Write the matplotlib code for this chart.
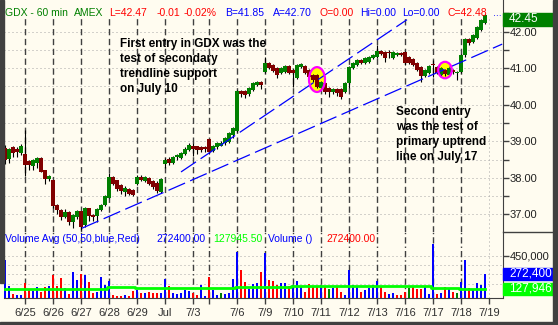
import matplotlib

matplotlib.use("Agg")
import matplotlib.pyplot as plt
import numpy as np
from matplotlib.lines import Line2D
from matplotlib.patches import Ellipse, Rectangle

plt.rcParams["font.family"] = ["Liberation Sans", "DejaVu Sans"]
plt.rcParams["lines.scale_dashes"] = False

# hourly bars: 5 bars left of 6/22, then one group per trading day
lead_bars = 5
day_labels = ["6/25", "6/26", "6/27", "6/28", "6/29", "Jul", "7/3", "", "7/6", "7/9",
              "7/10", "7/11", "7/12", "7/13", "7/16", "7/17", "7/18", "7/19"]
day_bars = [7, 7, 7, 7, 7, 7, 4, 7, 7, 7, 7, 7, 7, 7, 7, 7, 7, 0]

opens = [
    38.82, 38.52, 38.83, 38.80, 38.68,
    38.64, 38.45, 38.33, 38.40, 38.55, 38.20, 37.98,
    37.93, 37.25, 37.12, 36.93, 37.05, 36.80, 36.92,
    37.08, 36.70, 37.16, 36.99, 36.95, 37.12, 37.25,
    37.46, 38.03, 37.93, 37.80, 37.62, 37.70, 37.67,
    37.82, 38.03, 37.92, 38.00, 37.92, 37.87, 37.62,
    38.37, 38.52, 38.41, 38.56, 38.55, 38.66, 38.77,
    38.88, 38.86, 38.84, 38.83,
    39.05, 38.74, 38.83, 38.88, 38.94, 38.99, 39.18,
    39.29, 40.38, 40.38, 40.30, 40.41, 40.55, 40.63,
    40.90, 41.14, 41.09, 41.01, 40.87, 40.90, 41.06,
    40.95, 40.73, 41.03, 41.06, 40.95, 40.82, 40.82,
    40.46, 40.60, 40.46, 40.35, 40.43, 40.43, 40.35,
    40.60, 41.00, 41.09, 41.23, 41.15, 41.17, 41.28,
    41.31, 41.47, 41.45, 41.45, 41.28, 41.36, 41.42,
    41.45, 41.31, 41.25, 41.14, 41.03, 40.79, 40.87,
    41.12, 41.03, 40.82, 40.96, 40.82, 40.96, 40.87,
    40.90, 41.36, 41.80, 41.72, 41.83, 42.05, 42.24,
]
highs = [
    38.89, 38.82, 38.86, 38.85, 38.92,
    39.32, 38.50, 38.52, 38.56, 38.58, 38.22, 38.08,
    37.95, 37.28, 37.15, 37.14, 37.08, 37.00, 37.12,
    37.10, 37.21, 37.18, 37.02, 37.16, 37.29, 37.52,
    38.14, 38.06, 37.95, 37.84, 37.77, 37.73, 37.70,
    38.08, 38.08, 38.06, 38.03, 37.95, 37.90, 38.00,
    38.55, 38.56, 38.61, 38.65, 38.72, 38.83, 38.95,
    38.96, 38.88, 38.87, 38.86,
    39.07, 38.91, 38.97, 39.02, 39.13, 39.26, 39.40,
    40.41, 40.41, 40.41, 40.49, 40.63, 40.66, 40.66,
    41.31, 41.17, 41.12, 41.04, 41.04, 41.09, 41.09,
    40.98, 41.12, 41.14, 41.09, 40.98, 40.85, 40.85,
    40.66, 40.63, 40.49, 40.46, 40.46, 40.46, 40.63,
    41.07, 41.17, 41.26, 41.26, 41.31, 41.34, 41.39,
    41.64, 41.50, 41.48, 41.50, 41.48, 41.45, 41.45,
    41.48, 41.34, 41.28, 41.17, 41.06, 40.99, 41.09,
    41.23, 41.06, 41.04, 40.99, 41.04, 40.99, 40.93,
    41.39, 41.83, 41.83, 41.94, 42.16, 42.35, 42.48,
]
lows = [
    38.39, 38.41, 38.58, 38.58, 38.62,
    38.06, 38.20, 38.22, 38.28, 38.15, 37.82, 37.92,
    37.16, 37.00, 36.84, 36.90, 36.70, 36.63, 36.88,
    36.58, 36.66, 36.82, 36.81, 36.78, 37.08, 37.22,
    37.44, 37.80, 37.64, 37.55, 37.51, 37.52, 37.49,
    37.79, 37.90, 37.88, 37.80, 37.70, 37.59, 37.58,
    38.28, 38.36, 38.38, 38.50, 38.52, 38.63, 38.74,
    38.61, 38.64, 38.70, 38.72,
    38.66, 38.71, 38.80, 38.86, 38.91, 38.96, 39.08,
    39.26, 40.22, 40.19, 40.25, 40.38, 40.52, 40.44,
    40.87, 40.98, 40.90, 40.73, 40.84, 40.87, 40.84,
    40.48, 40.70, 41.00, 40.84, 40.72, 40.62, 40.45,
    40.40, 40.30, 40.22, 40.30, 40.25, 40.16, 40.32,
    40.46, 40.98, 41.06, 41.12, 41.12, 41.14, 41.25,
    41.28, 41.36, 41.17, 41.28, 41.25, 41.34, 41.33,
    41.09, 41.11, 41.06, 40.92, 40.62, 40.76, 40.84,
    40.76, 40.84, 40.79, 40.80, 40.79, 40.84, 40.68,
    40.87, 41.31, 41.64, 41.69, 41.80, 42.03, 42.21,
]
closes = [
    38.50, 38.80, 38.68, 38.70, 38.88,
    38.36, 38.34, 38.50, 38.53, 38.17, 37.98, 38.06,
    37.22, 37.12, 36.93, 37.06, 36.78, 36.97, 37.08,
    36.64, 37.18, 36.95, 36.94, 37.14, 37.26, 37.49,
    38.01, 37.84, 37.69, 37.63, 37.73, 37.56, 37.54,
    38.03, 37.95, 38.03, 37.84, 37.76, 37.65, 37.98,
    38.50, 38.41, 38.58, 38.62, 38.69, 38.80, 38.91,
    38.80, 38.75, 38.77, 38.79,
    38.72, 38.88, 38.94, 38.94, 39.10, 39.23, 39.37,
    40.38, 40.30, 40.27, 40.46, 40.60, 40.63, 40.55,
    41.14, 41.01, 40.93, 40.82, 41.01, 41.06, 40.87,
    40.88, 41.09, 41.11, 40.87, 40.76, 40.68, 40.49,
    40.63, 40.35, 40.35, 40.43, 40.32, 40.22, 40.60,
    41.04, 41.14, 41.23, 41.15, 41.28, 41.31, 41.36,
    41.47, 41.39, 41.28, 41.42, 41.45, 41.42, 41.36,
    41.14, 41.14, 41.09, 40.96, 40.79, 40.96, 41.06,
    41.08, 40.87, 41.01, 40.84, 41.01, 40.90, 40.90,
    41.36, 41.80, 41.69, 41.91, 42.13, 42.32, 42.45,
]
volumes = [
    404000, 160000, 79000, 70000, 70000,
    190000, 125000, 108000, 145000, 102000, 150000, 157000,
    265000, 160000, 232000, 135000, 79000, 291000, 216000,
    274000, 258000, 199000, 92000, 102000, 242000, 167000,
    206000, 70000, 60000, 60000, 70000, 60000, 112000,
    118000, 85000, 90000, 102000, 90000, 85000, 90000,
    222000, 157000, 85000, 79000, 90000, 118000, 112000,
    90000, 70000, 167000, 60000,
    248000, 122000, 70000, 90000, 79000, 85000, 222000,
    482000, 313000, 192000, 125000, 177000, 184000, 287000,
    476000, 216000, 209000, 167000, 190000, 190000, 157000,
    167000, 209000, 144000, 102000, 177000, 144000, 157000,
    167000, 157000, 125000, 134000, 144000, 102000, 69000,
    307000, 167000, 144000, 102000, 118000, 134000, 167000,
    206000, 151000, 102000, 79000, 92000, 69000, 69000,
    102000, 134000, 157000, 125000, 125000, 144000, 79000,
    557000, 79000, 92000, 144000, 125000, 102000, 92000,
    200000, 404000, 134000, 125000, 190000, 167000, 272400,
]
# 50-bar volume average, one level per day (lead + 17 days)
avg_volume = [125000, 125000, 127000, 130000, 150000, 140000, 140000, 140000, 135000,
              145000, 150000, 152000, 152000, 152000, 152000, 152000, 140000, 127946]

# trendlines: (start bar, start price, end bar, end price)
primary_trend = (19.25, 36.62, 124.3, 41.66)
secondary_trend = (44.0, 38.16, 100.5, 42.33)
# entry points circled on the chart: (bar, price)
entries = [(78.0, 40.69), (110.0, 40.95)]

title_parts = [("GDX - 60 min", "#008000", 5), ("AMEX", "#008000", 74),
               ("L=42.47", "#ff0000", 109), ("-0.01", "#ff0000", 157),
               ("-0.02%", "#ff0000", 184), ("B=41.85", "#0000ff", 225),
               ("A=42.70", "#0000ff", 273), ("O=0.00", "#ff0000", 319),
               ("Hi=0.00", "#0000ff", 360), ("Lo=0.00", "#0000ff", 402),
               ("C=42.48", "#ff0000", 447), ("...", "#0000ff", 493)]
volume_parts = [("Volume Avg (50,50,blue,Red)", "#0000ff", 5), ("272400.00", "#0000ff", 156),
                ("127945.50", "#00ff00", 213), ("Volume ()", "#0000ff", 268),
                ("272400.00", "#ff0000", 326)]
note_1 = "First entry in GDX was the\ntest of secondary\ntrendline support\non July 10"
note_2 = "Second entry\nwas the test of\nprimary uptrend\nline on July 17"

BG = "#fffcf0"
FRAME = "#404040"
DOT = (0, (0.72, 2.16))  # 1 px on, 3 px off
W, H = 558, 325

fig = plt.figure(figsize=(W / 100, H / 100), dpi=100, facecolor=BG)
ax_p = fig.add_axes([3.5 / W, (H - 232) / H, 499 / W, 232 / H], facecolor=BG)
ax_v = fig.add_axes([3.5 / W, (H - 298.3) / H, 499 / W, 66.3 / H], facecolor=BG)

n = len(closes)
x = np.arange(n)
starts = lead_bars + np.concatenate([[0], np.cumsum(day_bars[:-1])])

for ax in (ax_p, ax_v):
    ax.set_xlim(-0.375, 124.375)
    for side in ("left", "top", "bottom"):
        ax.spines[side].set_visible(False)
    ax.spines["right"].set_color(FRAME)
ax_v.spines["bottom"].set_visible(True)
ax_v.spines["bottom"].set_color(FRAME)

ax_p.set_ylim(36.516, 42.868)
ax_v.set_ylim(38500, 676000)
p_top = 42.42  # day lines stop under the title row

# grid
ax_p.hlines(np.arange(37.0, 42.01, 0.5), -0.375, 124.375, color="#a8a8a8", lw=0.72,
            linestyles=[DOT], zorder=0.5)
ax_v.hlines([180000, 270000, 360000, 450000], -0.375, 124.375, color="#a8a8a8", lw=0.72,
            linestyles=[DOT], zorder=0.5)
day_starts = starts[:-1]
ax_p.vlines(day_starts, 36.516, p_top, color=FRAME, lw=1.0,
            linestyles=[(0, (4.5, 2.6))], zorder=0.6)
ax_v.vlines(day_starts, 38500, 676000, color=FRAME, lw=1.0,
            linestyles=[(0, (4.5, 2.2, 1, 2.2))], zorder=0.6)
ax_p.vlines([starts[-1]], 36.516, p_top, color="#a8a8a8", lw=0.72,
            linestyles=[DOT], zorder=0.6)
ax_v.vlines([starts[-1]], 38500, 676000, color="#a8a8a8", lw=0.72,
            linestyles=[DOT], zorder=0.6)

# candles
o = np.array(opens)
c = np.array(closes)
up = c >= o
ax_p.vlines(x, lows, highs, color="black", lw=0.8, zorder=3)
body_lo = np.minimum(o, c)
body_h = np.maximum(np.abs(c - o), 0.03)
ax_p.bar(x, body_h, bottom=body_lo, width=0.78,
         color=np.where(up, "#008000", "#800000"), zorder=4)

# trendlines
for t in (primary_trend, secondary_trend):
    ax_p.plot([t[0], t[2]], [t[1], t[3]], color="#0000ff", lw=0.9,
              ls=(0, (13, 4)), zorder=5, solid_capstyle="butt")

# entry marks
for (bx, py), (w, h) in zip(entries, [(4.0, 0.68), (3.4, 0.45)]):
    ax_p.add_patch(Ellipse((bx, py), w, h, facecolor="#ffff00", edgecolor="none", zorder=2))
    ax_p.add_patch(Ellipse((bx, py), w, h, facecolor="none", edgecolor="#ff00ff", lw=1.6, zorder=6))

# volume, coloured by close-to-close change
diff = np.diff(np.concatenate([[c[0] - 0.01], c]))
vcol = np.where(diff > 0, "#0000ff", np.where(diff < 0, "#ff0000", "#008000"))
ax_v.bar(x, volumes, width=0.5, color=vcol, zorder=3)
per_bar_avg = np.repeat(avg_volume, [lead_bars] + day_bars[:-1])
ax_v.plot(x, per_bar_avg, color="#00ff00", lw=2.0, zorder=4, drawstyle="steps-mid")

# axes ticks
ax_p.yaxis.tick_right()
ax_p.set_yticks([37, 38, 39, 40, 41, 42])
ax_p.set_yticklabels([f"{v:.2f}" for v in [37, 38, 39, 40, 41, 42]])
ax_p.set_yticks(np.arange(37.5, 42.6, 1.0), minor=True)
ax_p.tick_params(axis="y", which="both", direction="out", length=4, width=1,
                 color=FRAME, labelsize=8, labelcolor="#202020", pad=1)
ax_p.set_xticks([])

ax_v.yaxis.tick_right()
ax_v.set_yticks([450000])
ax_v.set_yticklabels(["450,000"])
ax_v.tick_params(axis="y", direction="out", length=4, width=1, color=FRAME,
                 labelsize=8, labelcolor="#202020", pad=1)
ax_v.set_xticks(starts)
ax_v.set_xticklabels(day_labels)
ax_v.tick_params(axis="x", direction="out", length=4, width=1, color=FRAME,
                 labelsize=8, labelcolor="#303030", pad=3)

# text
for txt, col, px in title_parts:
    fig.text(px / W, 1 - 12.5 / H, txt, color=col, fontsize=7.5, va="center", ha="left")
for txt, col, px in volume_parts:
    fig.text(px / W, 1 - 239.5 / H, txt, color=col, fontsize=7.5, va="center", ha="left")
fig.text(120.5 / W, 1 - 38.5 / H, note_1, fontsize=8.5, fontweight="bold",
         va="top", ha="left", linespacing=1.3, color="black")
fig.text(396.5 / W, 1 - 106.5 / H, note_2, fontsize=8.5, fontweight="bold",
         va="top", ha="left", linespacing=1.3, color="black")


def right_box(ax, value, text, color, height_px, shift_px=0.0):
    y_disp = ax.transData.transform((0, value))[1] - shift_px
    y0 = (y_disp - height_px / 2) / H
    fig.patches.append(Rectangle((503 / W, y0), 50 / W, height_px / H,
                                 transform=fig.transFigure, color=color, zorder=5))
    fig.text(509 / W, y_disp / H, text, color="white", fontsize=8.5,
             va="center", ha="left", zorder=6)


right_box(ax_p, closes[-1], f"{closes[-1]:.2f}", "#008000", 13, shift_px=4)
right_box(ax_v, volumes[-1], f"{volumes[-1]:,.0f}", "#0000ff", 12)
right_box(ax_v, avg_volume[-1], f"{avg_volume[-1]:,.0f}", "#00ff00", 12)

# frame pieces
fig.add_artist(Line2D([502.5 / W, 553 / W], [1 - 232 / H, 1 - 232 / H], color=FRAME, lw=1))
for rx, ry, rw, rh in [(0, 0, 3.5, 283), (553, 0, 5, 325), (0, 322, 558, 3)]:
    fig.patches.append(Rectangle((rx / W, 1 - (ry + rh) / H), rw / W, rh / H,
                                 transform=fig.transFigure, color=FRAME, zorder=10))

fig.savefig("out.png", dpi=100, facecolor=BG)
